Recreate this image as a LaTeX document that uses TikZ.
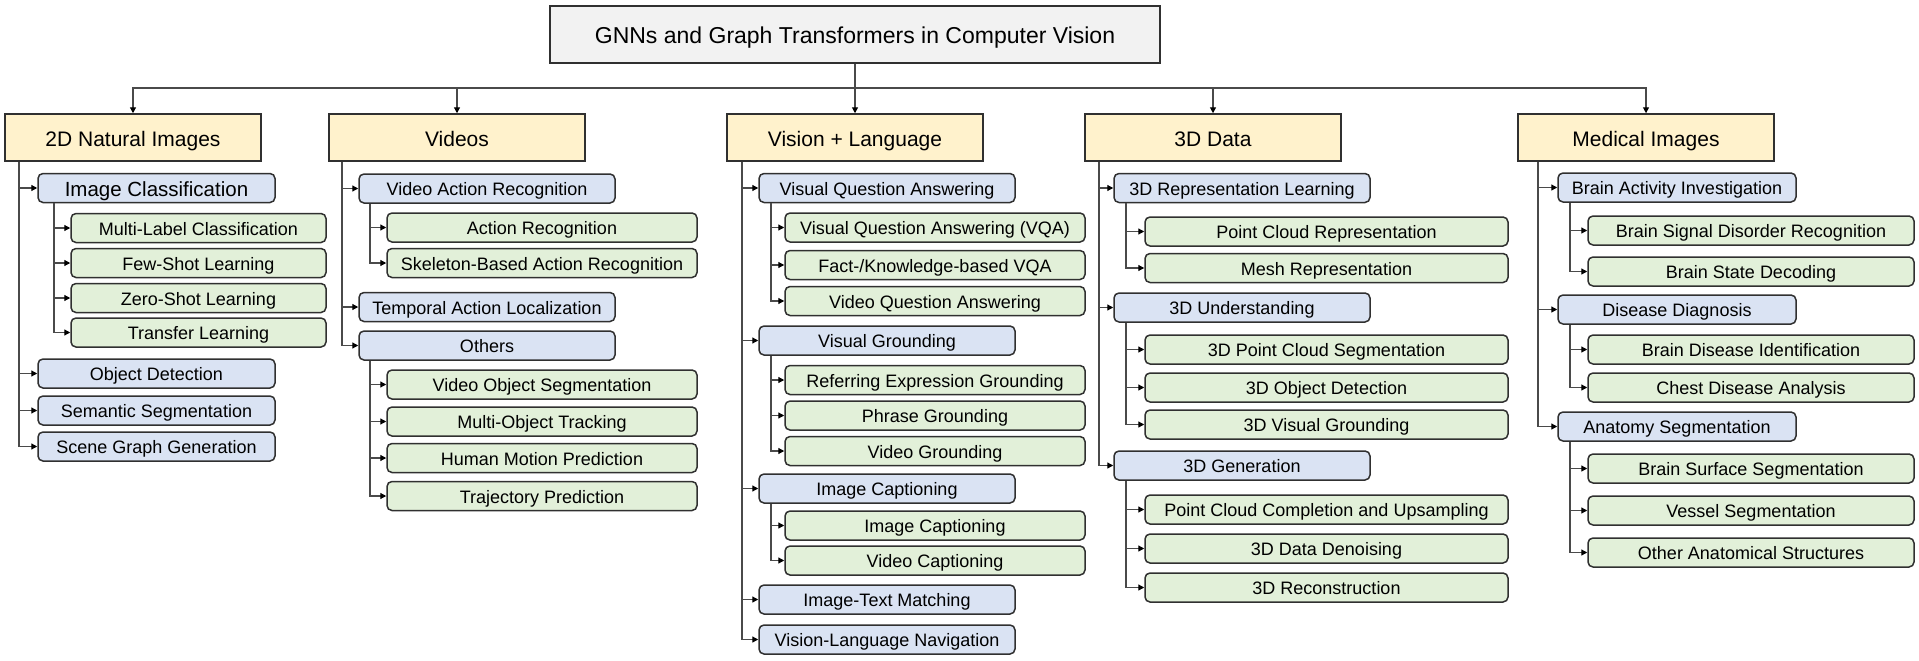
\documentclass[tikz,border=0pt]{standalone}
\usepackage{fontspec}
\setmainfont{Liberation Sans}
\usetikzlibrary{arrows.meta}
\definecolor{rootfill}{HTML}{F2F2F2}
\definecolor{catfill}{HTML}{FFF2CC}
\definecolor{bluefill}{HTML}{DAE3F3}
\definecolor{greenfill}{HTML}{E2F0D9}
\definecolor{bordercol}{HTML}{303030}
\definecolor{linecol}{HTML}{4A4A4A}
\tikzset{
  base/.style={draw=bordercol, line width=1.5pt, inner sep=0pt, minimum height=29pt,
    font=\fontsize{18}{20}\selectfont, text height=14.9pt, text depth=0pt, align=center},
  rootbox/.style={base, fill=rootfill, minimum width=610pt, minimum height=57pt,
    font=\fontsize{23}{26}\selectfont, text height=18.5pt},
  catbox/.style={base, fill=catfill, minimum width=256pt, minimum height=47pt,
    font=\fontsize{21}{24}\selectfont, text height=17pt},
  bluebox/.style={base, fill=bluefill, rounded corners=5pt},
  greenbox/.style={base, fill=greenfill, rounded corners=5pt},
  bigtext/.style={font=\fontsize{20.5}{23}\selectfont, text height=16.7pt},
  bA/.style={bluebox, minimum width=237pt},
  gA/.style={greenbox, minimum width=255pt},
  bB/.style={bluebox, minimum width=256pt},
  gB/.style={greenbox, minimum width=310pt},
  bC/.style={bluebox, minimum width=256pt},
  gC/.style={greenbox, minimum width=300pt},
  bD/.style={bluebox, minimum width=256pt},
  gD/.style={greenbox, minimum width=363pt},
  bE/.style={bluebox, minimum width=238pt},
  gE/.style={greenbox, minimum width=326pt},
  plainline/.style={draw=linecol, line width=1.2pt},
  conn/.style={draw=linecol, line width=1.2pt, -{Triangle[length=6pt,width=6pt,color=black]}},
}
\begin{document}
\begin{tikzpicture}[x=1pt,y=-1pt]
\useasboundingbox (0,0) rectangle (1919,661);
% root and categories
\node[rootbox] (root) at (855,34.5) {GNNs and Graph Transformers in Computer Vision};
\node[catbox] (c1) at (133,137.5) {2D Natural Images};
\node[catbox] (c2) at (457,137.5) {Videos};
\node[catbox] (c3) at (855,137.5) {Vision + Language};
\node[catbox] (c4) at (1213,137.5) {3D Data};
\node[catbox] (c5) at (1646,137.5) {Medical Images};
\coordinate (hub) at (855,88);
\draw[plainline] (root.south) -- (hub);
\draw[conn] (hub) -| (c1.north);
\draw[conn] (hub) -| (c2.north);
\draw[conn] (hub) -- (c3.north);
\draw[conn] (hub) -| (c4.north);
\draw[conn] (hub) -| (c5.north);

% ---------- 2D Natural Images
\node[bA, bigtext] (a1) at (156.5,188) {Image Classification};
\node[gA] (a11) at (198.5,228) {Multi-Label Classification};
\node[gA] (a12) at (198.5,263) {Few-Shot Learning};
\node[gA] (a13) at (198.5,298) {Zero-Shot Learning};
\node[gA] (a14) at (198.5,332.5) {Transfer Learning};
\node[bA] (a2) at (156.5,373.5) {Object Detection};
\node[bA] (a3) at (156.5,410.5) {Semantic Segmentation};
\node[bA] (a4) at (156.5,446.5) {Scene Graph Generation};
\coordinate (ta) at (19,0);
\coordinate (sa) at (54,0);
\foreach \n in {a1,a2,a3,a4} \draw[conn] (c1.south -| ta) |- (\n.west);
\foreach \n in {a11,a12,a13,a14} \draw[conn] (a1.south -| sa) |- (\n.west);

% ---------- Videos
\node[bB] (v1) at (487,188.5) {Video Action Recognition};
\node[gB] (v11) at (542,227.5) {Action Recognition};
\node[gB] (v12) at (542,263) {Skeleton-Based Action Recognition};
\node[bB] (v2) at (487,307) {Temporal Action Localization};
\node[bB] (v3) at (487,345.5) {Others};
\node[gB] (v31) at (542,384.5) {Video Object Segmentation};
\node[gB] (v32) at (542,421.5) {Multi-Object Tracking};
\node[gB] (v33) at (542,458) {Human Motion Prediction};
\node[gB] (v34) at (542,496) {Trajectory Prediction};
\coordinate (tv) at (342,0);
\coordinate (sv) at (370,0);
\foreach \n in {v1,v2,v3} \draw[conn] (c2.south -| tv) |- (\n.west);
\foreach \n in {v11,v12} \draw[conn] (v1.south -| sv) |- (\n.west);
\foreach \n in {v31,v32,v33,v34} \draw[conn] (v3.south -| sv) |- (\n.west);

% ---------- Vision + Language
\node[bC] (l1) at (887,188) {Visual Question Answering};
\node[gC] (l11) at (935,227.5) {Visual Question Answering (VQA)};
\node[gC] (l12) at (935,265) {Fact-/Knowledge-based VQA};
\node[gC] (l13) at (935,301) {Video Question Answering};
\node[bC] (l2) at (887,340.5) {Visual Grounding};
\node[gC] (l21) at (935,380) {Referring Expression Grounding};
\node[gC] (l22) at (935,415.5) {Phrase Grounding};
\node[gC] (l23) at (935,451) {Video Grounding};
\node[bC] (l3) at (887,488.5) {Image Captioning};
\node[gC] (l31) at (935,525.5) {Image Captioning};
\node[gC] (l32) at (935,560.5) {Video Captioning};
\node[bC] (l4) at (887,599.5) {Image-Text Matching};
\node[bC] (l5) at (887,639.5) {Vision-Language Navigation};
\coordinate (tl) at (742,0);
\coordinate (sl) at (771,0);
\foreach \n in {l1,l2,l3,l4,l5} \draw[conn] (c3.south -| tl) |- (\n.west);
\foreach \n in {l11,l12,l13} \draw[conn] (l1.south -| sl) |- (\n.west);
\foreach \n in {l21,l22,l23} \draw[conn] (l2.south -| sl) |- (\n.west);
\foreach \n in {l31,l32} \draw[conn] (l3.south -| sl) |- (\n.west);

% ---------- 3D Data
\node[bD] (d1) at (1242,188) {3D Representation Learning};
\node[gD] (d11) at (1326.5,231.5) {Point Cloud Representation};
\node[gD] (d12) at (1326.5,268) {Mesh Representation};
\node[bD] (d2) at (1242,307.5) {3D Understanding};
\node[gD] (d21) at (1326.5,349.5) {3D Point Cloud Segmentation};
\node[gD] (d22) at (1326.5,387.5) {3D Object Detection};
\node[gD] (d23) at (1326.5,424.5) {3D Visual Grounding};
\node[bD] (d3) at (1242,465.5) {3D Generation};
\node[gD] (d31) at (1326.5,509.5) {Point Cloud Completion and Upsampling};
\node[gD] (d32) at (1326.5,548.5) {3D Data Denoising};
\node[gD] (d33) at (1326.5,587.5) {3D Reconstruction};
\coordinate (td) at (1099,0);
\coordinate (sd) at (1126,0);
\foreach \n in {d1,d2,d3} \draw[conn] (c4.south -| td) |- (\n.west);
\foreach \n in {d11,d12} \draw[conn] (d1.south -| sd) |- (\n.west);
\foreach \n in {d21,d22,d23} \draw[conn] (d2.south -| sd) |- (\n.west);
\foreach \n in {d31,d32,d33} \draw[conn] (d3.south -| sd) |- (\n.west);

% ---------- Medical Images
\node[bE] (m1) at (1677,187.5) {Brain Activity Investigation};
\node[gE] (m11) at (1751,230.5) {Brain Signal Disorder Recognition};
\node[gE] (m12) at (1751,271.5) {Brain State Decoding};
\node[bE] (m2) at (1677,309.5) {Disease Diagnosis};
\node[gE] (m21) at (1751,349.5) {Brain Disease Identification};
\node[gE] (m22) at (1751,387.5) {Chest Disease Analysis};
\node[bE] (m3) at (1677,426.5) {Anatomy Segmentation};
\node[gE] (m31) at (1751,468.5) {Brain Surface Segmentation};
\node[gE] (m32) at (1751,510.5) {Vessel Segmentation};
\node[gE] (m33) at (1751,552.5) {Other Anatomical Structures};
\coordinate (tm) at (1538,0);
\coordinate (sm) at (1570,0);
\foreach \n in {m1,m2,m3} \draw[conn] (c5.south -| tm) |- (\n.west);
\foreach \n in {m11,m12} \draw[conn] (m1.south -| sm) |- (\n.west);
\foreach \n in {m21,m22} \draw[conn] (m2.south -| sm) |- (\n.west);
\foreach \n in {m31,m32,m33} \draw[conn] (m3.south -| sm) |- (\n.west);
\end{tikzpicture}
\end{document}
